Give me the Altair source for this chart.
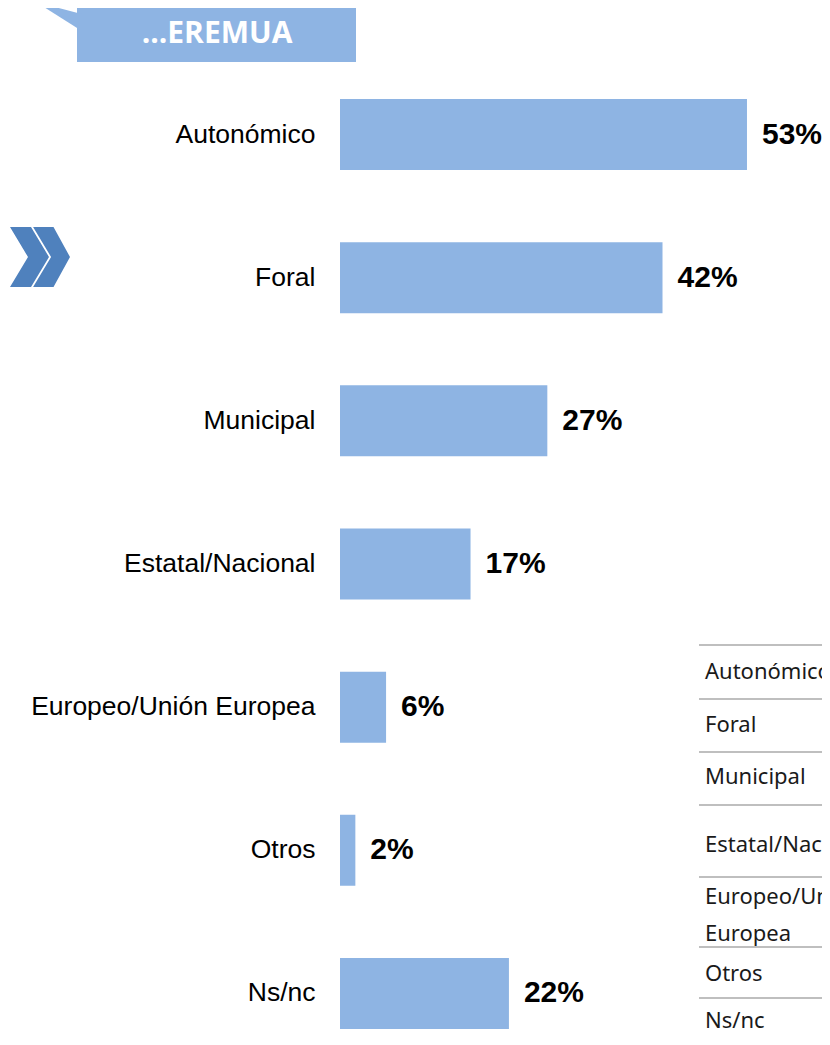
import altair as alt
import pandas as pd

categories = ["Autonómico", "Foral", "Municipal", "Estatal/Nacional",
              "Europeo/Unión Europea", "Otros", "Ns/nc"]
values = [53, 42, 27, 17, 6, 2, 22]
value_labels = ["53%", "42%", "27%", "17%", "6%", "2%", "22%"]
title_text = ["...EREMUA"]
table_lines = ["Autonómico", "Foral", "Municipal", "Estatal/Nacional",
               "Europeo/Unión", "Europea", "Otros", "Ns/nc"]

df = pd.DataFrame({"cat": categories, "val": values, "lab": value_labels})

BAR = "#8EB4E3"
W, H = 482, 940
PX, PY = 340, 92  # page position of the plot origin

y_enc = alt.Y("cat:N", sort=categories,
              scale=alt.Scale(paddingInner=0.504, paddingOuter=0, range=[7, 937]),
              axis=alt.Axis(title=None, ticks=False, domain=False, grid=False,
                            labelFont="Liberation Sans", labelFontSize=26.5,
                            labelColor="#000000", labelPadding=25, labelLimit=400))
x_enc = alt.X("val:Q", scale=alt.Scale(domain=[0, 62.77]), axis=None)

bars = alt.Chart(df).mark_bar(color=BAR).encode(x=x_enc, y=y_enc)
labels = alt.Chart(df).mark_text(align="left", baseline="middle", dx=15,
                                 font="Liberation Sans", fontSize=30,
                                 fontWeight="bold", color="#000000").encode(
    x=x_enc, y=y_enc, text="lab:N")

one = pd.DataFrame({"t": title_text})
title_box = alt.Chart(one).mark_rect(color=BAR).encode(
    x=alt.value(77 - PX), x2=alt.value(356 - PX), y=alt.value(4 - PY), y2=alt.value(62 - PY))
tri_path = "M -1.02 -0.63 L 1.2 -0.05 L 1.2 0.63 L 0.98 0.63 Z"
title_tri = alt.Chart(one).mark_point(shape=tri_path, filled=True, color=BAR,
                                      opacity=1, size=1681, strokeWidth=0).encode(
    x=alt.value(57 - PX), y=alt.value(15 - PY))
title_txt = alt.Chart(one).mark_text(font="Open Sans", fontSize=30,
                                     fontWeight="bold", color="#FFFFFF",
                                     align="center", baseline="middle").encode(
    x=alt.value(217 - PX), y=alt.value(34 - PY), text="t:N")

chev_path = ("M -1 -1 L -0.3 -1 L 0.3 0 L -0.3 1 L -1 1 L -0.4 0 Z "
             "M -0.23 -1 L 0.45 -1 L 1 0 L 0.45 1 L -0.23 1 L 0.37 0 Z")
chevron = alt.Chart(one).mark_point(shape=chev_path, filled=True, color="#4F81BD",
                                    opacity=1, size=3600, strokeWidth=0).encode(
    x=alt.value(40 - PX), y=alt.value(257 - PY))

layers = [bars, labels, title_box, title_tri, title_txt, chevron]

# table fragment at bottom right
line_y = [645, 699, 752, 805, 877, 947, 998]
text_y = [672, 725, 777, 845, 897, 934, 974, 1021]
for yy in line_y:
    layers.append(alt.Chart(one).mark_rule(color="#BFBFBF", strokeWidth=2).encode(
        x=alt.value(699 - PX), x2=alt.value(W + 20), y=alt.value(yy - PY)))
for txt, yy in zip(table_lines, text_y):
    layers.append(alt.Chart(pd.DataFrame({"t": [txt]})).mark_text(
        font="Noto Sans", fontSize=22, color="#1A1A1A", align="left",
        baseline="middle").encode(
        x=alt.value(705 - PX), y=alt.value(yy - PY), text="t:N"))

chart = alt.layer(*layers).properties(
    width=W, height=H,
    padding={"left": 332, "top": 84, "right": 0, "bottom": 0},
    autosize=alt.AutoSizeParams(type="none"),
).configure_view(stroke=None)

chart.save("out.html", embed_options={"renderer": "svg", "actions": False})
